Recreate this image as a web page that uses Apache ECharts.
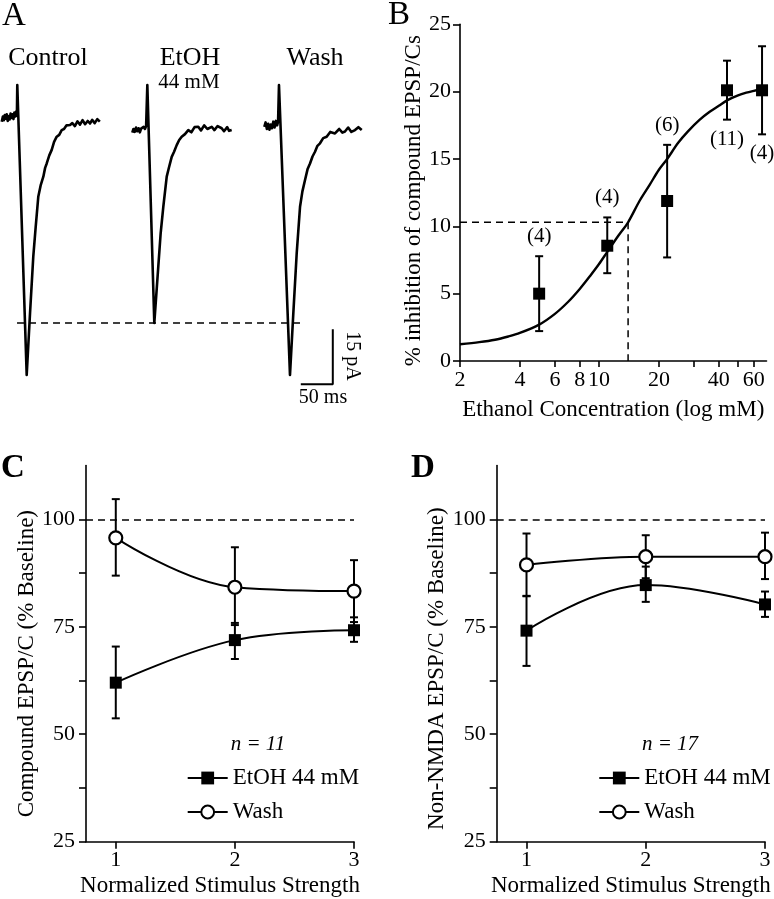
<!DOCTYPE html>
<html><head><meta charset="utf-8">
<script src="https://cdn.jsdelivr.net/npm/echarts@6/dist/echarts.min.js"></script>
<style>html,body{margin:0;padding:0;background:#fff}#c{width:774px;height:899px}</style>
</head><body><div id="c"></div>
<script>
// ---------- Panel A: example traces (time in ms, current in pA) ----------
const ctrlTime = [2.7,4.5,6,7.5,9,10.5,12,13.5,15,16.5,18,19.5,21,22.5,24,25.5,26.4,27,41.7,46.9,52,55.8,59.8,63.5,67.7,70.5,73,77,80.8,84.5,88.6,92.5,96.4,100,104,109.4,113,117,121,125,129,133,137,140.6,144,148,152,156];
const ctrlCurrent = [-1.0,0.4,-0.6,0.8,-0.2,1.0,-0.8,0.5,-0.4,1.2,0.0,1.0,-0.3,1.5,0.4,1.8,0.6,9.0,-70.1,-53.3,-37.8,-29.6,-21.5,-18.4,-16.0,-13.6,-12.4,-10.2,-8.7,-6.5,-5.1,-4.6,-3.3,-3.0,-2.0,-1.9,-1.4,-2.2,-0.9,-1.8,-0.6,-1.7,-0.8,-1.5,-0.5,-1.4,-0.3,-1.0];
const etohTime = [206.7,208.5,210.5,212.5,214.5,216.5,218.5,220.5,222.5,224.5,226.5,228.3,230.2,241.1,247.3,251,255.2,260.5,264,268.3,272,276.1,280,283.9,289,294.2,299,304,309.8,314,319,324,330.8,335,340,346.4,350,355,358,362];
const etohCurrent = [-4.0,-3.0,-3.8,-2.6,-3.6,-2.8,-3.9,-2.9,-3.3,-2.4,-3.0,-2.2,9.0,-55.9,-40.6,-31.5,-24.2,-16.0,-13.5,-10.6,-9.2,-7.4,-6.0,-5.1,-4.4,-3.3,-3.9,-2.5,-2.4,-3.4,-2.0,-3.0,-2.4,-3.3,-2.2,-2.8,-3.6,-2.5,-3.5,-3.3];
const washTime = [413,415,417,419,421,423,425,427,429,431,433,434.5,435.9,453.1,458.3,463.6,468.8,472.5,476.6,480.5,484.4,488.3,492.2,496,500,505,510.4,516,523.4,530,535,539,544,549,554.7,560,565.2];
const washCurrent = [-2.4,-1.2,-3.0,-1.6,-3.2,-1.8,-2.8,-1.0,-2.6,-0.8,-2.0,-1.0,9.0,-70.1,-53.3,-36.9,-24.2,-20.0,-16.9,-14.0,-12.4,-10.5,-9.2,-7.6,-6.9,-5.5,-5.1,-3.8,-4.2,-3.0,-4.0,-3.7,-2.6,-3.8,-3.3,-2.5,-3.3];
const etohPeakLevel = -55.9;          // dashed reference (pA)
const refLineTime = [26.6, 468.8];    // dashed line extent (ms)
const scaleBarEnd = [520, -72.6];     // corner of scale bar (ms, pA)
const scaleBarMs = 50, scaleBarPA = 15;

// ---------- Panel B: concentration-response ----------
const concB = [5, 11, 22, 44, 66];
const inhibB = [5.0, 8.56, 11.88, 20.1, 20.1];
const inhibHiB = [7.78, 10.66, 16.05, 22.3, 23.37];
const inhibLoB = [2.22, 6.52, 7.69, 17.92, 16.83];
const nB = [4, 4, 6, 11, 4];
const fitConc = [2, 2.5, 3, 3.5, 4, 5, 6, 7, 8, 9, 10, 11, 12.5, 14, 16, 18, 20, 22, 25, 28, 32, 36, 40, 44, 50, 55, 60, 66];
const fitInhib = [1.24, 1.4, 1.58, 1.82, 2.08, 2.7, 3.5, 4.4, 5.35, 6.3, 7.2, 8.1, 9.3, 10.3, 11.9, 13.1, 14.2, 15.0, 16.2, 17.05, 17.9, 18.5, 18.95, 19.35, 19.72, 19.92, 20.06, 20.2];
const ec50 = 14, halfMax = 10.3;
const concTicks = [2, 4, 6, 8, 10, 20, 30, 40, 50, 60];
const concLabels = [2, 4, 6, 8, 10, 20, 40, 60];

// ---------- Panels C & D ----------
const stim = [1, 2, 3];
const cEtoh = [62.0, 71.9, 74.2], cEtohHi = [70.4, 75.9, 77.2], cEtohLo = [53.7, 67.5, 71.5];
const cWash = [95.7, 84.2, 83.3], cWashHi = [104.7, 93.5, 90.5], cWashLo = [86.9, 75.4, 76.1];
const dEtoh = [74.1, 84.7, 80.2], dEtohHi = [82.2, 89.0, 83.2], dEtohLo = [65.9, 80.8, 77.3];
const dWash = [89.4, 91.3, 91.3], dWashHi = [96.7, 96.3, 96.9], dWashLo = [82.1, 86.3, 86.1];
const pctTicks = [25, 37.5, 50, 62.5, 75, 87.5, 100];
const pctLabels = [25, 50, 75, 100];
const baselinePct = 100;

// ---------- build ----------
const FONT = '"Liberation Serif", "Times New Roman", serif';
const zip = (xs, ys) => xs.map((x, i) => [x, ys[i]]);
const zip3 = (xs, a, b) => xs.map((x, i) => [x, a[i], b[i]]);

function mkAxis(o) {
  const base = {
    axisLine: {show: true, lineStyle: {color: '#000', width: 1.6}},
    axisTick: {show: true, inside: false, length: 7, lineStyle: {color: '#000', width: 1.6}},
    axisLabel: {show: true, color: '#000', fontFamily: FONT, fontSize: 22, margin: 10},
    splitLine: {show: false},
    nameLocation: 'middle',
    nameTextStyle: {color: '#000', fontFamily: FONT, fontSize: 23}
  };
  const r = Object.assign({}, base, o);
  ['axisLine', 'axisTick', 'axisLabel', 'nameTextStyle'].forEach(k => {
    if (o[k]) r[k] = Object.assign({}, base[k], o[k]);
  });
  return r;
}

function errRender(params, api) {
  const x = api.value(0), lo = api.value(1), hi = api.value(2);
  const a = api.coord([x, hi]), b = api.coord([x, lo]);
  const w = 4;
  const st = {stroke: '#000', lineWidth: 2};
  return {type: 'group', children: [
    {type: 'line', shape: {x1: a[0], y1: a[1], x2: b[0], y2: b[1]}, style: st},
    {type: 'line', shape: {x1: a[0] - w, y1: a[1], x2: a[0] + w, y2: a[1]}, style: st},
    {type: 'line', shape: {x1: b[0] - w, y1: b[1], x2: b[0] + w, y2: b[1]}, style: st}
  ]};
}
function errSeries(idx, xs, lo, hi) {
  return {type: 'custom', xAxisIndex: idx, yAxisIndex: idx, data: zip3(xs, lo, hi),
    encode: {x: 0, y: [1, 2]}, renderItem: errRender, z: 2, silent: true};
}
function etohSeries(idx, ys) {
  return {name: 'EtOH 44 mM', type: 'line', xAxisIndex: idx, yAxisIndex: idx, data: zip(stim, ys),
    smooth: 0.4, symbol: 'rect', symbolSize: 12, showSymbol: true,
    itemStyle: {color: '#000', opacity: 1}, lineStyle: {color: '#000', width: 2}, z: 3};
}
function washSeries(idx, ys) {
  return {name: 'Wash', type: 'line', xAxisIndex: idx, yAxisIndex: idx, data: zip(stim, ys),
    smooth: 0.4, symbol: 'circle', symbolSize: 13, showSymbol: true,
    itemStyle: {color: '#fff', borderColor: '#000', borderWidth: 2.2, opacity: 1}, lineStyle: {color: '#000', width: 2}, z: 4};
}
const traceStyle = {type: 'line', xAxisIndex: 0, yAxisIndex: 0, symbol: 'none', lineStyle: {color: '#000', width: 2.6, join: 'round'}, silent: true};
const dash = {color: '#000', width: 1.5, type: [7, 5]};

const countBelow = [false, false, false, true, true];
const countData = concB.map((c, i) => ({
  value: [c, countBelow[i] ? inhibLoB[i] : inhibHiB[i]],
  label: {position: countBelow[i] ? 'bottom' : 'top'}
}));

const option = {
  animation: false,
  backgroundColor: '#fff',
  textStyle: {fontFamily: FONT, color: '#000'},
  grid: [
    {left: 0, top: 63, width: 364.8, height: 330},
    {left: 460, top: 24.3, width: 306.5, height: 336.7},
    {left: 86, top: 465.6, width: 268, height: 376.1},
    {left: 496.7, top: 465.6, width: 268.3, height: 376.1}
  ],
  xAxis: [
    {type: 'value', gridIndex: 0, min: 0, max: 570, show: false},
    mkAxis({type: 'log', logBase: 10, gridIndex: 1, min: 2, max: 69.5,
      name: 'Ethanol Concentration (log mM)', nameGap: 37,
      axisTick: {customValues: concTicks, length: 6},
      axisLabel: {customValues: concLabels, margin: 8}}),
    mkAxis({type: 'value', gridIndex: 2, min: 0.75, max: 3,
      name: 'Normalized Stimulus Strength', nameGap: 33,
      axisTick: {customValues: stim}, axisLabel: {customValues: stim, margin: 8}}),
    mkAxis({type: 'value', gridIndex: 3, min: 0.75, max: 3,
      name: 'Normalized Stimulus Strength', nameGap: 33,
      axisTick: {customValues: stim}, axisLabel: {customValues: stim, margin: 8}})
  ],
  yAxis: [
    {type: 'value', gridIndex: 0, min: -75, max: 15, show: false},
    mkAxis({type: 'value', gridIndex: 1, min: 0, max: 25, interval: 5,
      name: '% inhibition of compound EPSP/Cs', nameGap: 31,
      nameTextStyle: {padding: [0, 16, 0, 0]},
      axisLabel: {margin: 9}}),
    mkAxis({type: 'value', gridIndex: 2, min: 25, max: 112.5,
      name: 'Compound EPSP/C (% Baseline)', nameGap: 41,
      nameTextStyle: {padding: [0, 20, 0, 0]},
      axisTick: {customValues: pctTicks}, axisLabel: {customValues: pctLabels, margin: 11}}),
    mkAxis({type: 'value', gridIndex: 3, min: 25, max: 112.5,
      name: 'Non-NMDA EPSP/C (% Baseline)', nameGap: 43,
      nameTextStyle: {padding: [0, 30, 0, 0]},
      axisTick: {customValues: pctTicks}, axisLabel: {customValues: pctLabels, margin: 11}})
  ],
  legend: [
    {data: ['EtOH 44 mM', 'Wash'], orient: 'vertical', left: 181.7, top: 761, itemWidth: 40, itemHeight: 16,
     itemGap: 10, selectedMode: false, textStyle: {fontFamily: FONT, fontSize: 23, color: '#000', lineHeight: 24}},
    {data: ['EtOH 44 mM', 'Wash'], orient: 'vertical', left: 593.3, top: 761, itemWidth: 40, itemHeight: 16,
     itemGap: 10, selectedMode: false, textStyle: {fontFamily: FONT, fontSize: 23, color: '#000', lineHeight: 24}}
  ],
  series: [
    // Panel A
    Object.assign({}, traceStyle, {name: 'Control', data: zip(ctrlTime, ctrlCurrent)}),
    Object.assign({}, traceStyle, {name: 'EtOH trace', data: zip(etohTime, etohCurrent)}),
    Object.assign({}, traceStyle, {name: 'Wash trace', data: zip(washTime, washCurrent)}),
    {type: 'line', xAxisIndex: 0, yAxisIndex: 0, symbol: 'none', silent: true, lineStyle: dash,
     data: [[refLineTime[0], etohPeakLevel], [refLineTime[1], etohPeakLevel]]},
    {type: 'line', xAxisIndex: 0, yAxisIndex: 0, symbol: 'none', silent: true,
     lineStyle: {color: '#000', width: 2},
     data: [[scaleBarEnd[0] - scaleBarMs, scaleBarEnd[1]], [scaleBarEnd[0], scaleBarEnd[1]],
            [scaleBarEnd[0], scaleBarEnd[1] + scaleBarPA]]},
    // Panel B
    {type: 'line', xAxisIndex: 1, yAxisIndex: 1, symbol: 'none', silent: true, lineStyle: dash,
     data: [[2, halfMax], [ec50, halfMax], [ec50, 0]]},
    {type: 'line', xAxisIndex: 1, yAxisIndex: 1, symbol: 'none', silent: true, smooth: 0.3,
     lineStyle: {color: '#000', width: 2.4}, data: zip(fitConc, fitInhib)},
    errSeries(1, concB, inhibLoB, inhibHiB),
    {type: 'scatter', xAxisIndex: 1, yAxisIndex: 1, symbol: 'rect', symbolSize: 12,
     itemStyle: {color: '#000', opacity: 1}, data: zip(concB, inhibB), z: 3},
    {type: 'scatter', xAxisIndex: 1, yAxisIndex: 1, symbolSize: 0, silent: true, data: countData,
     itemStyle: {opacity: 1},
     label: {show: true, distance: 9, fontFamily: FONT, fontSize: 21, color: '#000', opacity: 1,
       formatter: p => '(' + nB[p.dataIndex] + ')'}},
    // Panel C
    errSeries(2, stim, cWashLo, cWashHi),
    errSeries(2, stim, cEtohLo, cEtohHi),
    etohSeries(2, cEtoh),
    Object.assign(washSeries(2, cWash), {markLine: {silent: true, symbol: 'none', label: {show: false},
      lineStyle: dash, data: [{yAxis: baselinePct}]}}),
    // Panel D
    errSeries(3, stim, dWashLo, dWashHi),
    errSeries(3, stim, dEtohLo, dEtohHi),
    etohSeries(3, dEtoh),
    Object.assign(washSeries(3, dWash), {markLine: {silent: true, symbol: 'none', label: {show: false},
      lineStyle: dash, data: [{yAxis: baselinePct}]}})
  ],
  graphic: [
    {type: 'text', x: 14, y: 16, style: {text: 'A', font: '33px ' + FONT, fill: '#000', align: 'center', verticalAlign: 'middle'}},
    {type: 'text', x: 399, y: 15, style: {text: 'B', font: '33px ' + FONT, fill: '#000', align: 'center', verticalAlign: 'middle'}},
    {type: 'text', x: 13, y: 468, style: {text: 'C', font: 'bold 33px ' + FONT, fill: '#000', align: 'center', verticalAlign: 'middle'}},
    {type: 'text', x: 423, y: 468, style: {text: 'D', font: 'bold 33px ' + FONT, fill: '#000', align: 'center', verticalAlign: 'middle'}},
    {type: 'text', x: 48, y: 58, style: {text: 'Control', font: '26px ' + FONT, fill: '#000', align: 'center', verticalAlign: 'middle'}},
    {type: 'text', x: 190, y: 58, style: {text: 'EtOH', font: '26px ' + FONT, fill: '#000', align: 'center', verticalAlign: 'middle'}},
    {type: 'text', x: 189, y: 82, style: {text: '44 mM', font: '21px ' + FONT, fill: '#000', align: 'center', verticalAlign: 'middle'}},
    {type: 'text', x: 315, y: 58, style: {text: 'Wash', font: '26px ' + FONT, fill: '#000', align: 'center', verticalAlign: 'middle'}},
    {type: 'text', x: 352, y: 356, rotation: -Math.PI / 2, style: {text: '15 pA', font: '20px ' + FONT, fill: '#000', align: 'center', verticalAlign: 'middle'}},
    {type: 'text', x: 323, y: 398, style: {text: '50 ms', font: '20px ' + FONT, fill: '#000', align: 'center', verticalAlign: 'middle'}},
    {type: 'text', x: 258, y: 744, style: {text: 'n = 11', font: 'italic 21px ' + FONT, fill: '#000', align: 'center', verticalAlign: 'middle'}},
    {type: 'text', x: 670, y: 744, style: {text: 'n = 17', font: 'italic 21px ' + FONT, fill: '#000', align: 'center', verticalAlign: 'middle'}}
  ]
};
const chart = echarts.init(document.getElementById('c'));
chart.setOption(option);
</script>
</body></html>
